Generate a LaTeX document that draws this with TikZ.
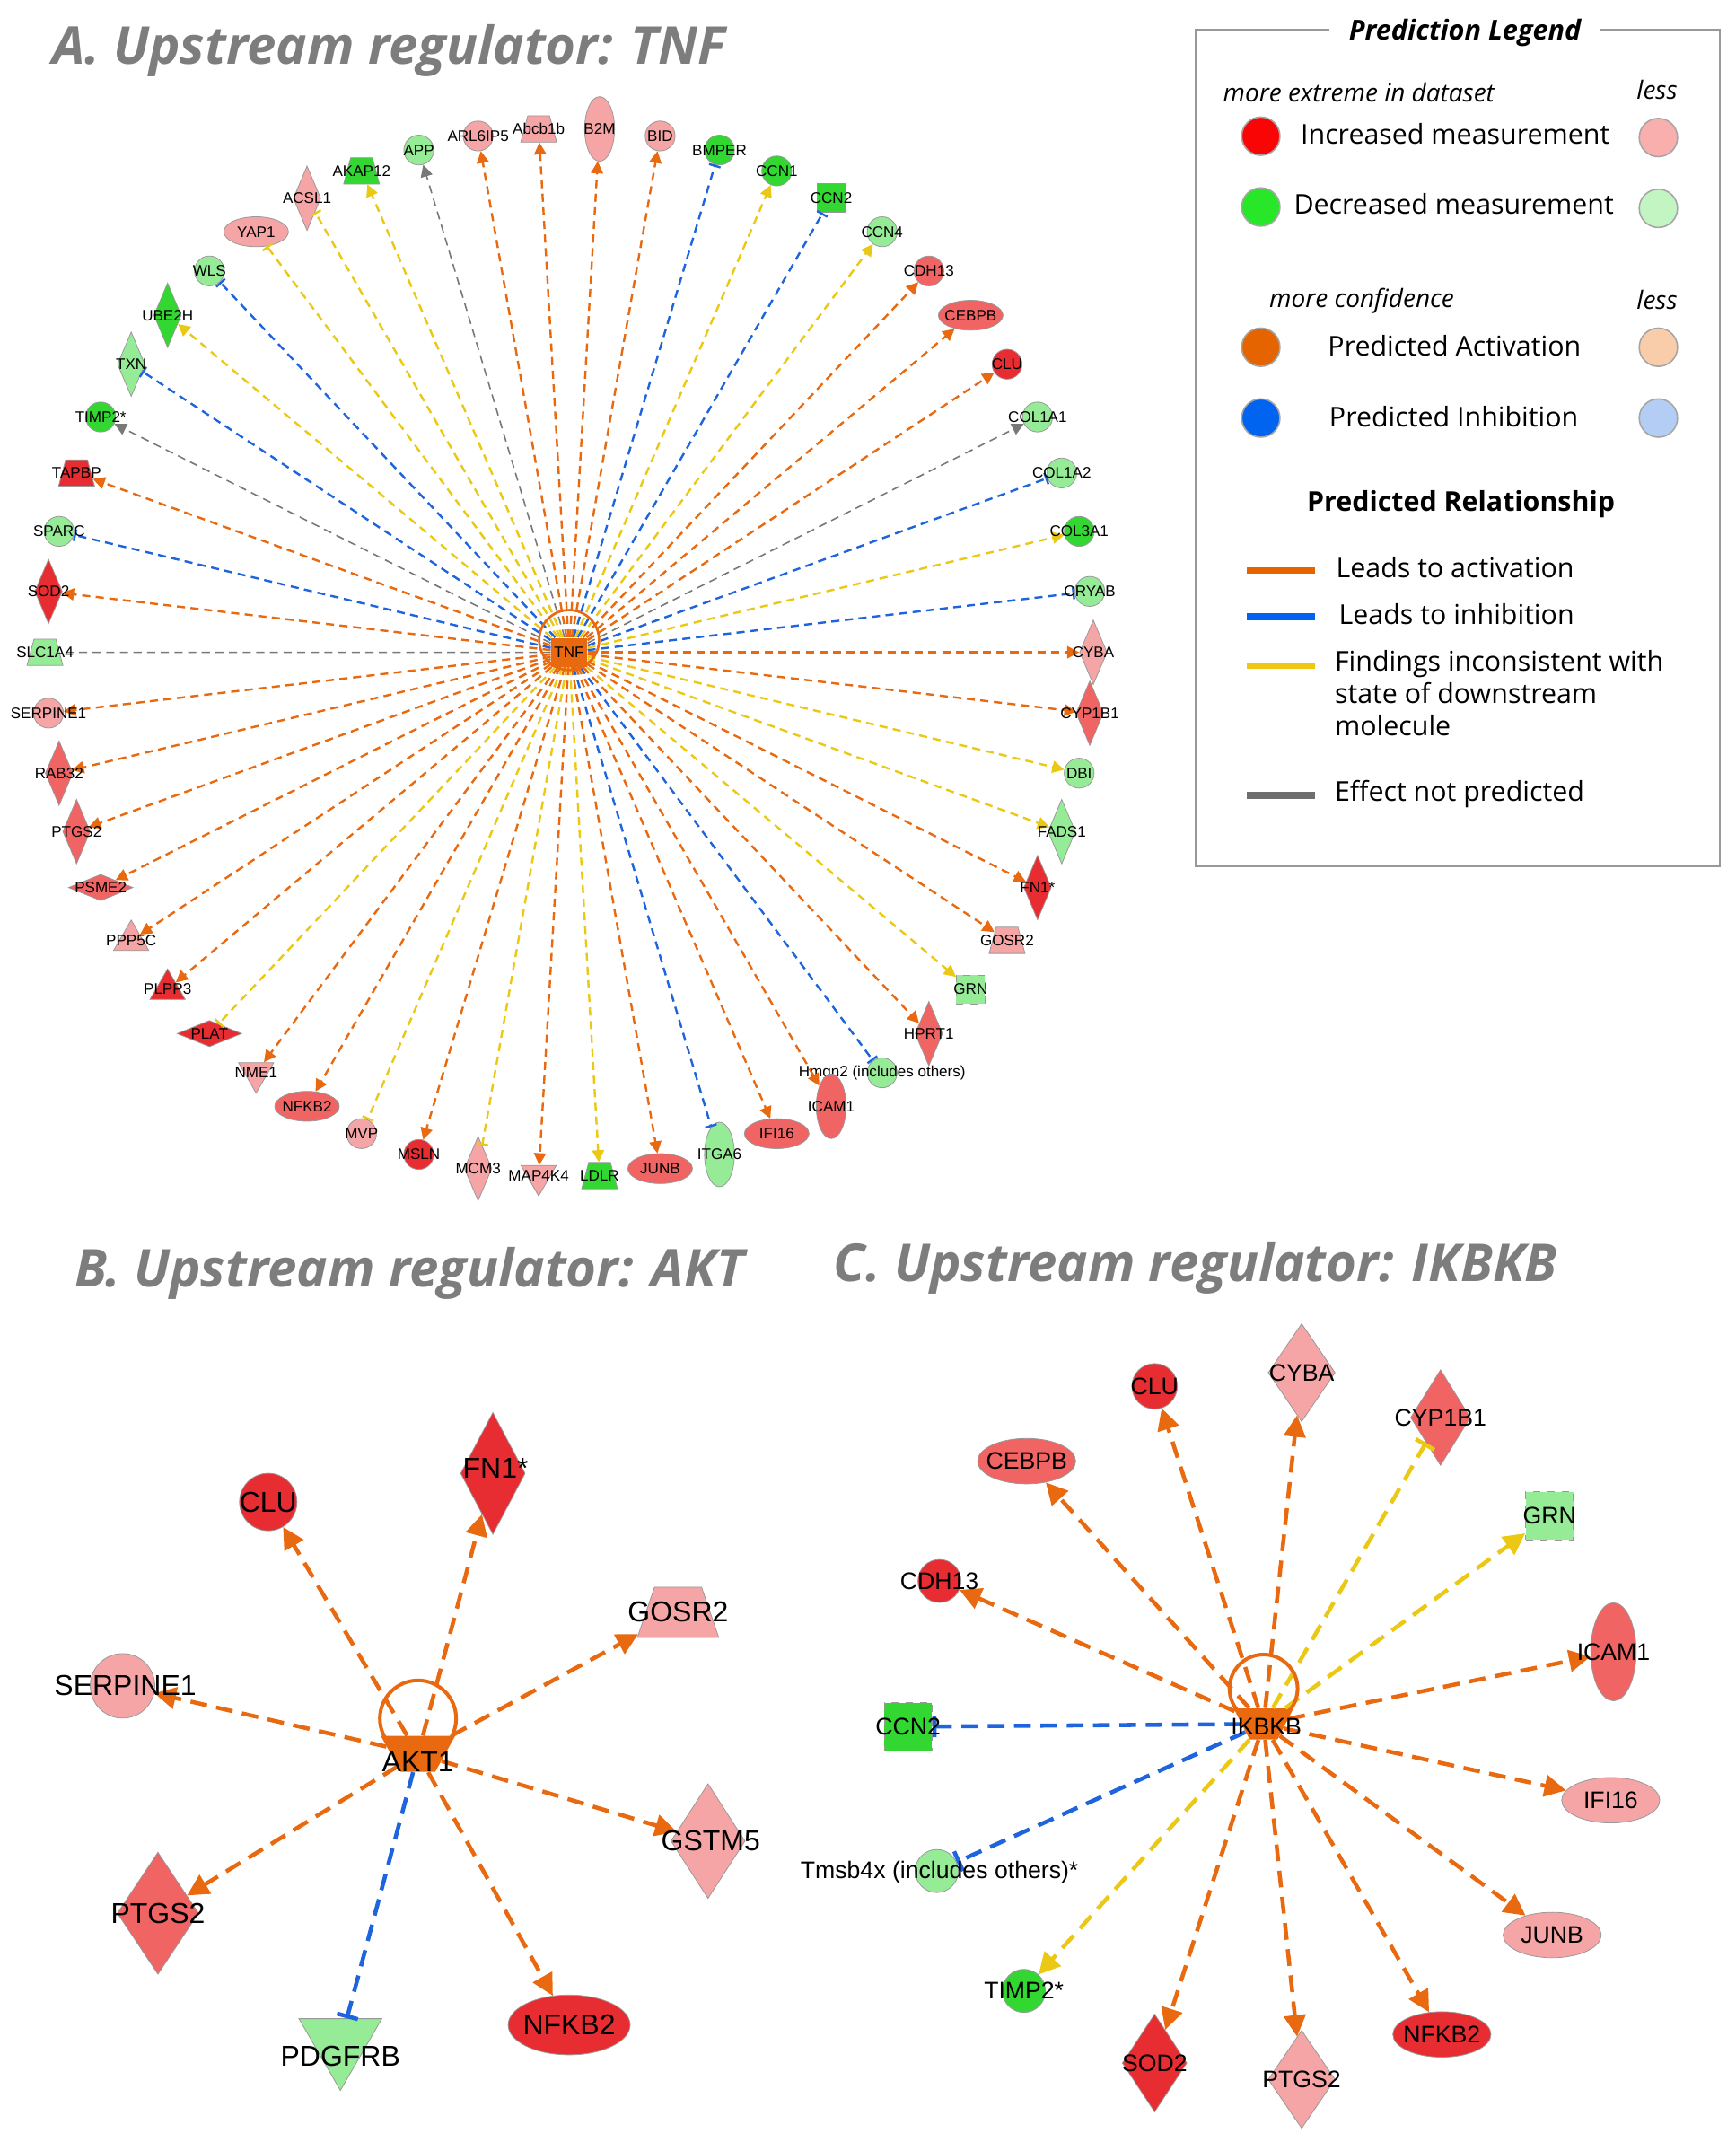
\documentclass[tikz,border=0pt]{standalone}
\usepackage{fontspec}
\setmainfont{Liberation Sans}
\newfontfamily\tfont{Open Sans}
\usetikzlibrary{shapes.geometric,arrows.meta}
\definecolor{rd}{RGB}{232,45,50}
\definecolor{mred}{RGB}{240,100,100}
\definecolor{pnk}{RGB}{245,165,165}
\definecolor{grn}{RGB}{50,215,50}
\definecolor{lgrn}{RGB}{150,235,150}
\definecolor{eor}{RGB}{232,105,15}
\definecolor{ebl}{RGB}{30,100,220}
\definecolor{eye}{RGB}{235,200,20}
\definecolor{egr}{RGB}{120,120,120}
\definecolor{ttl}{RGB}{125,125,125}
\definecolor{Lr}{RGB}{250,5,5}
\definecolor{Lpk}{RGB}{250,175,175}
\definecolor{Lg}{RGB}{40,230,40}
\definecolor{Llg}{RGB}{195,245,195}
\definecolor{Lo}{RGB}{230,100,0}
\definecolor{Llo}{RGB}{250,205,170}
\definecolor{Lb}{RGB}{0,100,240}
\definecolor{Llb}{RGB}{180,205,245}
\definecolor{Ly}{RGB}{240,200,20}
\definecolor{Lgy}{RGB}{110,110,110}
\tikzset{
 g/.style={draw=black!40, line width=0.3pt, inner sep=1pt, fill=#1},
 circ/.style={g=#1,circle,minimum size=12.5pt},
 ellH/.style={g=#1,ellipse,minimum width=27pt,minimum height=12.5pt},
 ellV/.style={g=#1,ellipse,minimum width=12.5pt,minimum height=27pt},
 diaV/.style={g=#1,diamond,minimum width=11.5pt,minimum height=27pt},
 diaH/.style={g=#1,diamond,minimum width=27pt,minimum height=11pt},
 trap/.style={g=#1,trapezium,trapezium stretches=true,trapezium left angle=72,trapezium right angle=72,minimum width=15pt,minimum height=11pt},
 tri/.style={g=#1,regular polygon,regular polygon sides=3,minimum size=17pt},
 itri/.style={g=#1,regular polygon,regular polygon sides=3,shape border rotate=180,minimum size=17pt},
 sq/.style={g=#1,rectangle,minimum size=12pt},
 sqd/.style={g=#1,rectangle,minimum size=12pt,dashed},
 labA/.style={font=\fontsize{6.4}{6.4}\selectfont,inner sep=0pt},
 eA/.style={line width=0.9pt,dash pattern=on 3.4pt off 2.3pt},
 act/.style={eA,draw=eor,-{Triangle[length=5pt,width=5pt]}},
 inh/.style={eA,draw=ebl,-{Bar[width=5pt]}},
 yarr/.style={eA,draw=eye,-{Triangle[length=5pt,width=5pt]}},
 ybar/.style={eA,draw=eye,-{Bar[width=5pt]}},
 garr/.style={eA,draw=egr,line width=0.6pt,-{Triangle[length=5pt,width=5pt]}},
 gnone/.style={eA,draw=egr,line width=0.6pt},
 eB/.style={line width=1.7pt,dash pattern=on 7pt off 4pt},
 actB/.style={eB,draw=eor,-{Triangle[length=9pt,width=9pt]}},
 inhB/.style={eB,draw=ebl,-{Bar[width=9pt]}},
 yarrB/.style={eB,draw=eye,-{Triangle[length=9pt,width=9pt]}},
 ybarB/.style={eB,draw=eye,-{Bar[width=9pt]}},
 ttl/.style={font=\tfont\bfseries\itshape\fontsize{21.8}{24}\selectfont,text=ttl,anchor=west,inner sep=0pt},
 lg/.style={font=\tfont\fontsize{11.4}{14}\selectfont,anchor=west,inner sep=0pt,align=left},
 lgi/.style={font=\tfont\itshape\fontsize{10.5}{12}\selectfont,inner sep=0pt},
 lc/.style={circle,draw=black!35,line width=0.6pt,minimum size=16pt,inner sep=0pt,fill=#1},
 ll/.style={line width=2.8pt,draw=#1},
 lB/.style={font=\fontsize{12}{12}\selectfont,inner sep=0pt},
 lC/.style={font=\fontsize{10}{10}\selectfont,inner sep=0pt},
}
\begin{document}
\begin{tikzpicture}[x=0.02cm,y=-0.02cm]
\path[use as bounding box] (0,0) rectangle (1275,1573);
% ---------- titles
\node[ttl] (tA) at (38,37) {A. Upstream regulator: TNF};
\node[ttl] (tB) at (55,935) {B. Upstream regulator: AKT};
\node[ttl] (tC) at (612,931) {C. Upstream regulator: IKBKB};
% ---------- A
\node[rectangle,fill=eor,minimum width=15pt,minimum height=12pt,inner sep=0pt] (tnf) at (418,479) {};
\foreach \i/\lab/\sty/\fc/\ed in {
0/B2M/ellV/pnk/act, 1/BID/circ/pnk/act, 2/BMPER/circ/grn/inh, 3/CCN1/circ/grn/yarr,
4/CCN2/sq/grn/inh, 5/CCN4/circ/lgrn/yarr, 6/CDH13/circ/mred/act, 7/CEBPB/ellH/mred/act,
8/CLU/circ/rd/act, 9/COL1A1/circ/lgrn/garr, 10/COL1A2/circ/lgrn/inh, 11/COL3A1/circ/grn/yarr,
12/CRYAB/circ/lgrn/inh, 13/CYBA/diaV/pnk/act, 14/CYP1B1/diaV/mred/act, 15/DBI/circ/lgrn/yarr,
16/FADS1/diaV/lgrn/yarr, 17/FN1*/diaV/rd/act, 18/GOSR2/trap/pnk/act, 19/GRN/sqd/lgrn/yarr,
20/HPRT1/diaV/mred/act, 21/{Hmgn2 (includes others)}/circ/lgrn/inh, 22/ICAM1/ellV/mred/act,
23/IFI16/ellH/mred/act, 24/ITGA6/ellV/lgrn/inh, 25/JUNB/ellH/mred/act, 26/LDLR/trap/grn/yarr,
27/MAP4K4/itri/pnk/act, 28/MCM3/diaV/pnk/ybar, 29/MSLN/circ/rd/act, 30/MVP/circ/pnk/ybar,
31/NFKB2/ellH/mred/act, 32/NME1/itri/pnk/act, 33/PLAT/diaH/rd/ybar, 34/PLPP3/tri/rd/act,
35/PPP5C/tri/pnk/act, 36/PSME2/diaH/mred/act, 37/PTGS2/diaV/mred/act, 38/RAB32/diaV/mred/act,
39/SERPINE1/circ/pnk/act, 40/SLC1A4/trap/lgrn/gnone, 41/SOD2/diaV/rd/act, 42/SPARC/circ/lgrn/inh,
43/TAPBP/trap/rd/act, 44/TIMP2*/circ/grn/garr, 45/TXN/diaV/lgrn/inh, 46/UBE2H/diaV/grn/yarr,
47/WLS/circ/lgrn/inh, 48/YAP1/ellH/pnk/ybar, 49/ACSL1/diaV/pnk/ybar, 50/AKAP12/trap/grn/yarr,
51/APP/circ/lgrn/garr, 52/ARL6IP5/circ/pnk/act, 53/Abcb1b/trap/pnk/act}{
 \pgfmathsetmacro\ang{\i*6.6667-86.6667}
 \node[\sty=\fc] (a\i) at ({418+385*cos(\ang)},{479+385*sin(\ang)}) {};
 \draw[\ed] (tnf) -- (a\i);
 \node[labA] (ta\i) at (a\i) {\lab};
}
\node[labA] (tnflab) at (tnf) {TNF};
\draw[eor,line width=1pt] (418,470) circle[radius=22];
% ---------- Legend
\draw[black!40,line width=0.8pt] (878,22) rectangle (1263,636);
\node[fill=white,font=\tfont\bfseries\itshape\fontsize{11.5}{14}\selectfont,inner xsep=8pt] (lgT) at (1076,24) {Prediction Legend};
\node[lgi,anchor=west] (lg1) at (898,68) {more extreme in dataset};
\node[lgi] (lg2) at (1217,66) {less};
\node[lc=Lr] (c1) at (926,100) {};
\node[lg] (l1) at (955,98) {Increased measurement};
\node[lc=Lpk] (c2) at (1218,101) {};
\node[lc=Lg] (c3) at (926,152) {};
\node[lg] (l2) at (950,150) {Decreased measurement};
\node[lc=Llg] (c4) at (1218,153) {};
\node[lgi,anchor=west] (lg3) at (932,221) {more confidence};
\node[lgi] (lg4) at (1217,220) {less};
\node[lc=Lo] (c5) at (926,255) {};
\node[lg] (l3) at (975,254) {Predicted Activation};
\node[lc=Llo] (c6) at (1218,255) {};
\node[lc=Lb] (c7) at (926,307) {};
\node[lg] (l4) at (976,306) {Predicted Inhibition};
\node[lc=Llb] (c8) at (1218,307) {};
\node[font=\tfont\bfseries\fontsize{11.4}{14}\selectfont,inner sep=0pt] (lgR) at (1073,370) {Predicted Relationship};
\coordinate (o1) at (916,419); \coordinate (o2) at (966,419);
\draw[ll=Lo] (o1) -- (o2);
\node[lg] (l5) at (981,417) {Leads to activation};
\coordinate (b1) at (916,453); \coordinate (b2) at (966,453);
\draw[ll=Lb] (b1) -- (b2);
\node[lg] (l6) at (983,451) {Leads to inhibition};
\coordinate (y1) at (916,489); \coordinate (y2) at (966,489);
\draw[ll=Ly] (y1) -- (y2);
\node[lg,anchor=north west] (l7) at (980,477) {Findings inconsistent with\\[-0.5pt]state of downstream\\[-0.5pt]molecule};
\coordinate (g1) at (916,584); \coordinate (g2) at (966,584);
\draw[ll=Lgy] (g1) -- (g2);
\node[lg] (l8) at (980,583) {Effect not predicted};
% ---------- B
\node[g=eor,draw=none,trapezium,trapezium stretches=true,shape border rotate=180,trapezium left angle=60,trapezium right angle=60,minimum width=31pt,minimum height=15pt] (akt) at (307,1288) {};
\node[g=rd,circle,minimum size=24pt] (bclu) at (197,1103) {};
\node[g=rd,diamond,minimum width=27pt,minimum height=51pt] (bfn) at (362,1082) {};
\node[g=pnk,trapezium,trapezium stretches=true,trapezium left angle=70,trapezium right angle=70,minimum width=34pt,minimum height=21pt] (bgo) at (498,1184) {};
\node[g=pnk,circle,minimum size=27pt] (bse) at (90,1238) {};
\node[g=pnk,diamond,minimum width=31pt,minimum height=48pt] (bgs) at (520,1352) {};
\node[g=mred,diamond,minimum width=34pt,minimum height=51pt] (bpt) at (116,1405) {};
\node[g=rd,ellipse,minimum width=51pt,minimum height=25pt] (bnf) at (418,1487) {};
\node[g=lgrn,regular polygon,regular polygon sides=3,shape border rotate=180,minimum size=40pt] (bpd) at (250,1500) {};
\foreach \t in {bclu,bfn,bgo,bse,bgs,bpt,bnf} \draw[actB] (akt) -- (\t);
\draw[inhB] (akt) -- (bpd);
\draw[eor,line width=1.5pt] (307,1262) circle[radius=28];
\node[lB] (lakt) at (307,1294) {AKT1};
\node[lB] (lbclu) at (197,1103) {CLU};
\node[lB] (lbfn) at (364,1078) {FN1*};
\node[lB] (lbgo) at (498,1184) {GOSR2};
\node[lB] (lbse) at (92,1238) {SERPINE1};
\node[lB] (lbgs) at (522,1352) {GSTM5};
\node[lB] (lbpt) at (116,1405) {PTGS2};
\node[lB] (lbnf) at (418,1487) {NFKB2};
\node[lB] (lbpd) at (250,1510) {PDGFRB};
% ---------- C
\node[g=eor,draw=none,trapezium,trapezium stretches=true,shape border rotate=180,trapezium left angle=60,trapezium right angle=60,minimum width=25pt,minimum height=13pt] (ik) at (928,1266) {};
\node[g=rd,circle,minimum size=19pt] (cclu) at (848,1018) {};
\node[g=pnk,diamond,minimum width=28pt,minimum height=41pt] (ccy) at (956,1008) {};
\node[g=mred,diamond,minimum width=25pt,minimum height=40pt] (ccp) at (1058,1041) {};
\node[g=mred,ellipse,minimum width=41pt,minimum height=19pt] (cce) at (754,1073) {};
\node[g=lgrn,rectangle,dashed,minimum size=20pt] (cgr) at (1138,1113) {};
\node[g=rd,circle,minimum size=18pt] (ccd) at (690,1161) {};
\node[g=mred,ellipse,minimum width=19pt,minimum height=41pt] (cic) at (1185,1213) {};
\node[g=grn,rectangle,dashed,minimum size=20pt] (ccn) at (667,1268) {};
\node[g=pnk,ellipse,minimum width=41pt,minimum height=19pt] (cif) at (1183,1322) {};
\node[g=lgrn,circle,minimum size=18pt] (ctm) at (688,1374) {};
\node[g=pnk,ellipse,minimum width=41pt,minimum height=19pt] (cju) at (1140,1421) {};
\node[g=grn,circle,minimum size=18pt] (cti) at (752,1462) {};
\node[g=rd,diamond,minimum width=27pt,minimum height=41pt] (cso) at (848,1515) {};
\node[g=pnk,diamond,minimum width=28pt,minimum height=41pt] (cpt) at (956,1527) {};
\node[g=rd,ellipse,minimum width=41pt,minimum height=19pt] (cnf) at (1059,1494) {};
\foreach \t in {cclu,ccy,cce,ccd,cic,cif,cju,cnf,cpt,cso} \draw[actB] (ik) -- (\t);
\draw[ybarB] (ik) -- (ccp);
\draw[yarrB] (ik) -- (cgr);
\draw[yarrB] (ik) -- (cti);
\draw[inhB] (ik) -- (ccn);
\draw[inhB] (ik) -- (ctm);
\draw[eor,line width=1.5pt] (928,1240) circle[radius=25];
\node[lC] (lik) at (930,1268) {IKBKB};
\node[lC] (lcclu) at (848,1018) {CLU};
\node[lC] (lccy) at (956,1008) {CYBA};
\node[lC] (lccp) at (1058,1041) {CYP1B1};
\node[lC] (lcce) at (754,1073) {CEBPB};
\node[lC] (lcgr) at (1138,1113) {GRN};
\node[lC] (lccd) at (690,1161) {CDH13};
\node[lC] (lcic) at (1185,1213) {ICAM1};
\node[lC] (lccn) at (667,1268) {CCN2};
\node[lC] (lcif) at (1183,1322) {IFI16};
\node[lC] (lctm) at (690,1375) {Tmsb4x (includes others)*};
\node[lC] (lcju) at (1140,1421) {JUNB};
\node[lC] (lcti) at (752,1462) {TIMP2*};
\node[lC] (lcso) at (848,1515) {SOD2};
\node[lC] (lcpt) at (956,1527) {PTGS2};
\node[lC] (lcnf) at (1059,1494) {NFKB2};
\end{tikzpicture}
\end{document}
